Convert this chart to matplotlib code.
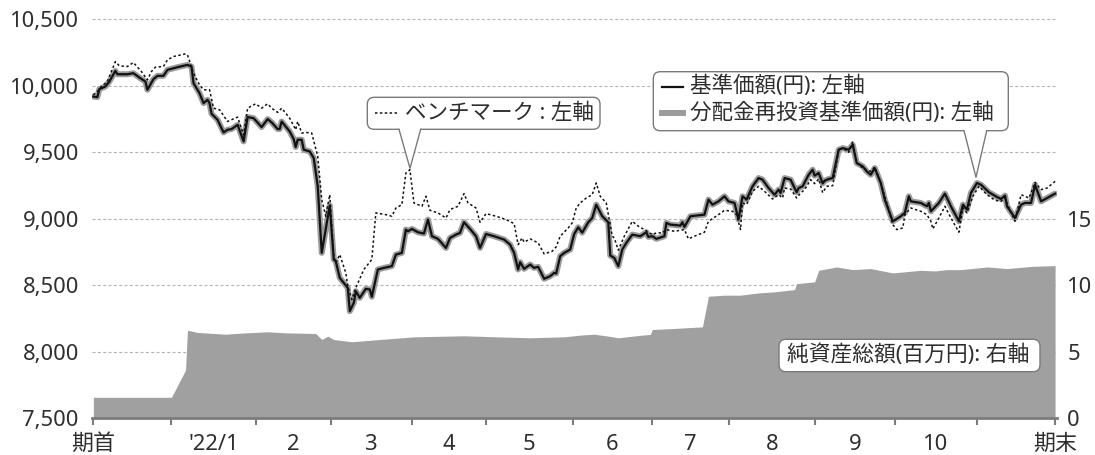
import matplotlib
matplotlib.use("Agg")
import matplotlib.pyplot as plt
import matplotlib.transforms as mtransforms
from matplotlib.patches import FancyBboxPatch, Polygon
from matplotlib.lines import Line2D

plt.rcParams['font.family'] = ['Noto Sans', 'Noto Sans CJK JP', 'DejaVu Sans']

# ---------------- data (x = trading-day position from 期首) ----------------
nav_day = [0, 1, 1.5, 3, 4, 5.5, 6, 8.5, 10, 11.5, 13, 13.5, 15, 16, 17.5, 18.5, 21, 23.5, 24.5, 25,
           26.5, 27.5, 28.5, 29, 29.5, 31, 32.5, 33.5, 34.5, 36, 37.5, 38.5, 40, 42, 43.5, 44.5, 46, 46.5,
           47, 49, 50, 50.5, 51, 52, 52.5, 54, 55, 56, 57, 59, 60, 60.5, 61.5, 62.5, 63.5, 64, 65, 65.5,
           66.5, 68, 69, 69.5, 71, 72.5, 74.5, 75.5, 77, 78, 78.5, 79.5, 81, 82.5, 83.5, 84.5, 86, 88, 89,
           90.5, 91.5, 92.5, 94, 95.5, 96.5, 98, 100, 102.5, 104, 105, 106, 106.5, 107.5, 109, 110, 111,
           112.5, 114, 115, 115.5, 116.5, 117.5, 119, 120, 121, 122, 123.5, 124.5, 125.5, 127, 128.5, 129,
           130, 131, 132, 133, 134.5, 136.5, 138, 138.5, 139.5, 140.5, 142.5, 143, 144, 146.5, 147, 147.5,
           149, 150.5, 152.5, 153.5, 154.5, 156, 157.5, 158.5, 160, 161, 162, 163, 164.5, 166, 167, 168.5,
           170, 171, 171.5, 172.5, 174, 175.5, 176, 177, 178.5, 179.5, 180, 181, 182, 182.5, 183.5, 184.5,
           186, 187, 188.5, 189.5, 190.5, 192, 193, 194, 195, 196.5, 197.5, 199.5, 201.5, 202.5, 203.5, 204,
           206.5, 208, 208.5, 209, 211, 212.5, 214, 216, 217, 218, 219, 220.5, 221.5, 223.5, 225.5, 226.5,
           227.5, 228, 230, 231.5, 232.5, 234, 235, 236.5, 238, 240]
nav_val = [9917, 9913, 9973, 9993, 10030, 10110, 10085, 10085, 10093, 10060, 10030, 9968, 10048, 10073,
           10073, 10118, 10138, 10155, 10143, 10018, 9943, 9868, 9893, 9868, 9788, 9743, 9648, 9668, 9673,
           9705, 9580, 9763, 9755, 9688, 9748, 9723, 9673, 9673, 9730, 9655, 9598, 9538, 9593, 9593, 9518,
           9505, 9455, 9243, 8743, 9100, 8693, 8680, 8555, 8518, 8480, 8305, 8368, 8455, 8405, 8473, 8468,
           8413, 8618, 8630, 8643, 8730, 8743, 8918, 8905, 8923, 8898, 8888, 8993, 8868, 8848, 8780, 8855,
           8880, 8893, 8973, 8923, 8868, 8780, 8885, 8868, 8843, 8805, 8743, 8618, 8673, 8623, 8655, 8630,
           8638, 8548, 8568, 8593, 8588, 8718, 8743, 8768, 8885, 8935, 8895, 8973, 9005, 9105, 9018, 8973,
           8723, 8705, 8643, 8768, 8818, 8880, 8868, 8898, 8863, 8868, 8848, 8868, 8968, 8955, 8948, 8973,
           8938, 9018, 9023, 9030, 9143, 9105, 9130, 9168, 9130, 9118, 8993, 9168, 9143, 9243, 9305, 9293,
           9230, 9180, 9218, 9193, 9305, 9293, 9198, 9230, 9243, 9330, 9368, 9323, 9343, 9265, 9285, 9298,
           9305, 9518, 9530, 9518, 9555, 9418, 9393, 9355, 9330, 9380, 9268, 9143, 8980, 9018, 9043, 9168,
           9130, 9118, 9093, 9118, 9055, 9118, 9188, 9093, 8980, 9105, 9068, 9193, 9268, 9255, 9198, 9163,
           9148, 9173, 9093, 9005, 9105, 9118, 9118, 9255, 9130, 9155, 9188]
# 分配金再投資基準価額: no distributions in the period -> same as 基準価額
reinv_val = list(nav_val)

bench_day = [0, 1, 2, 3.5, 5.5, 6.5, 8.5, 10, 12, 13.5, 14.5, 15.5, 17.5, 18.5, 20, 23, 23.5, 25, 26.5,
             27.5, 29, 30, 31.5, 33.5, 34.5, 36, 37.5, 38.5, 40.5, 42, 43.5, 44.5, 46, 47, 49, 50.5, 51, 52,
             53, 54.5, 56, 57, 58, 59, 60, 60.5, 61.5, 63, 63.5, 64.5, 65.5, 67.5, 69.5, 70.5, 73, 74.5,
             75.5, 77, 78, 79, 80, 82, 83, 84, 86, 88, 89, 91, 92.5, 93.5, 95.5, 96.5, 98, 100.5, 103, 105,
             106, 107, 107.5, 109, 111, 112.5, 114.5, 115.5, 116.5, 118.5, 119.5, 120.5, 121.5, 123, 124.5,
             125.5, 126.5, 128, 129.5, 130, 131, 132.5, 134.5, 136, 137.5, 138.5, 139.5, 140.5, 142, 143,
             145, 147.5, 148.5, 150, 152.5, 153.5, 156, 157.5, 159.5, 160.5, 161.5, 162, 163, 164.5, 166,
             167.5, 169.5, 171, 172, 172.5, 174, 175.5, 176.5, 177.5, 179, 180, 181, 182, 183, 184.5, 186,
             187, 188.5, 189.5, 190.5, 192, 194, 195, 196.5, 198, 199.5, 200.5, 202, 202.5, 204, 206.5, 208,
             209, 209.5, 211, 212.5, 214, 216, 217, 218, 219.5, 221, 223, 225, 226.5, 227.5, 228.5, 230,
             231.5, 233.5, 235, 236.5, 238, 240]
bench_val = [9930, 9955, 9993, 10030, 10180, 10148, 10143, 10173, 10105, 10043, 10105, 10138, 10143, 10193,
             10218, 10238, 10230, 10093, 10005, 9968, 9968, 9830, 9818, 9730, 9743, 9763, 9630, 9830, 9863,
             9830, 9863, 9830, 9798, 9830, 9755, 9668, 9730, 9643, 9648, 9643, 9468, 9143, 9018, 9180, 8718,
             8668, 8730, 8593, 8493, 8393, 8480, 8618, 8693, 9043, 9030, 9018, 9080, 9105, 9343, 9368, 9118,
             9093, 9168, 9063, 9043, 9005, 9068, 9093, 9188, 9118, 9080, 8973, 9038, 9018, 8993, 8963, 8805,
             8855, 8823, 8848, 8818, 8735, 8755, 8788, 8868, 8930, 8968, 9080, 9118, 9155, 9180, 9268, 9168,
             9118, 8868, 8855, 8763, 8868, 8980, 8943, 8918, 8898, 8880, 8893, 8893, 8918, 8905, 8918, 8848,
             8868, 8898, 8980, 9030, 9063, 9055, 9030, 8918, 9118, 9105, 9205, 9243, 9205, 9148, 9180, 9155,
             9230, 9223, 9155, 9193, 9218, 9293, 9263, 9298, 9195, 9243, 9248, 9518, 9530, 9498, 9580, 9418,
             9380, 9355, 9388, 9268, 9118, 8955, 8918, 8930, 9030, 9080, 9055, 9030, 8980, 8923, 9005, 9093,
             9005, 8898, 9080, 9043, 9168, 9243, 9180, 9138, 9130, 9155, 9080, 8980, 9180, 9155, 9273, 9218,
             9230, 9280]

net_day = [0, 19.5, 23, 23.5, 26, 33, 38, 43.5, 48, 55.5, 57, 58.5, 60, 64.5, 71.5, 80, 92.5, 100.5, 109,
           117.5, 121.5, 125, 128.5, 131, 137, 139, 139.5, 145, 152, 153.5, 157.5, 161.5, 166, 170, 175,
           175.5, 180, 181, 185.5, 189.5, 194, 199.5, 206.5, 210, 213, 216.5, 223, 228, 234.5, 240]
net_val = [1.58, 1.58, 3.62, 6.62, 6.45, 6.32, 6.42, 6.5, 6.42, 6.37, 5.92, 6.17, 5.92, 5.75, 5.92, 6.12,
           6.2, 6.12, 6.05, 6.12, 6.25, 6.32, 6.17, 6.05, 6.25, 6.3, 6.67, 6.75, 6.87, 9.17, 9.25, 9.25,
           9.42, 9.5, 9.67, 10.12, 10.25, 11.12, 11.37, 11.17, 11.25, 10.92, 11.12, 11.07, 11.17, 11.17,
           11.37, 11.25, 11.42, 11.47]

month_bounds = [0, 19.4, 40.6, 59.2, 79.4, 97.9, 119.6, 139.5, 158.6, 180.2, 200.0, 220.4, 240]
month_labels = ["'22/1", "2", "3", "4", "5", "6", "7", "8", "9", "10"]
left_ticks = [7500, 8000, 8500, 9000, 9500, 10000, 10500]
right_ticks = [0, 5, 10, 15]

# ---------------- figure ----------------
W, H = 1095, 455
fig = plt.figure(figsize=(W / 100, H / 100), dpi=100)
L, R, T, B = 92, 1056.7, 19, 418.3
rect = [L / W, 1 - B / H, (R - L) / W, (B - T) / H]

ax = fig.add_axes(rect)
ax2 = ax.twinx()
ax3 = fig.add_axes(rect, sharex=ax, sharey=ax)
ax.set_zorder(1); ax2.set_zorder(2); ax3.set_zorder(3)
ax2.patch.set_visible(False); ax3.patch.set_visible(False)

txt = '#2e2e2e'
FS = 15.8
ax.set_xlim(-0.33, 240.4)
ax.set_ylim(7500, 10500)
ax.set_yticks(left_ticks)
ax.set_yticklabels([f'{v:,}' for v in left_ticks])
ax.tick_params(axis='y', length=0, pad=9.5, labelsize=FS, labelcolor=txt)
ax.tick_params(axis='x', which='both', bottom=False, labelbottom=False)
ax.yaxis.grid(True, color='#b4b4b4', lw=0.8, linestyle=(0, (2.8, 2.0)))
for s in ax.spines.values():
    s.set_visible(False)

ax2.set_ylim(0, 30)
ax2.set_yticks(right_ticks)
ax2.tick_params(axis='y', length=0, pad=7.5, labelsize=FS, labelcolor=txt)
for s in ax2.spines.values():
    s.set_visible(False)
ax2.fill_between(net_day, 0, net_val, color='#a0a0a0', lw=0)

ax3.plot(nav_day, reinv_val, color='#9c9c9c', lw=4.3, solid_joinstyle='round', solid_capstyle='round')
ax3.plot(nav_day, nav_val, color='#111111', lw=1.6, solid_joinstyle='round')
ax3.plot(bench_day, bench_val, color='#111111', lw=1.1, linestyle=(0, (1.6, 1.6)))
ax3.tick_params(axis='y', which='both', left=False, labelleft=False)
for k, s in ax3.spines.items():
    s.set_visible(k == 'bottom')
ax3.spines['bottom'].set_color('#7c7c7c')
ax3.spines['bottom'].set_linewidth(2.0)
ax3.xaxis.remove_overlapping_locs = False
ax3.set_xticks(month_bounds)
ax3.set_xticklabels([''] * len(month_bounds))
mids = [(month_bounds[i] + month_bounds[i + 1]) / 2 for i in range(1, 11)]
ax3.set_xticks([month_bounds[0]] + mids + [month_bounds[-1]], minor=True)
ax3.set_xticklabels(['期首'] + month_labels + ['期末'], minor=True)
ax3.tick_params(axis='x', which='major', length=5, width=1.5, color='#7c7c7c', direction='out')
ax3.tick_params(axis='x', which='minor', length=0, pad=11, labelsize=FS, labelcolor=txt)

# ---------------- callouts (pixel coordinates, y downward) ----------------
PT = mtransforms.Affine2D().scale(1, -1).translate(0, H)
edge = '#7a7a7a'
AF = 15.5


def callout(x0, y0, x1, y1, ptr=None):
    box = FancyBboxPatch((x0, y0), x1 - x0, y1 - y0, boxstyle='round,pad=0,rounding_size=7',
                         fc='white', ec=edge, lw=1.0, transform=PT, zorder=10)
    fig.add_artist(box)
    if ptr:
        bx0, bx1, tx, ty = ptr
        fig.add_artist(Polygon([(bx0, y1 - 1.5), (tx, ty), (bx1, y1 - 1.5)], closed=True,
                               fc='white', ec='none', transform=PT, zorder=11))
        fig.add_artist(Line2D([bx0, tx, bx1], [y1, ty, y1], color=edge, lw=1.0,
                              transform=PT, zorder=12))


callout(367.3, 97.3, 600, 129.3, (399, 420.7, 410, 168.3))
fig.add_artist(Line2D([375, 399], [113.3, 113.3], color='#111111', lw=1.1, linestyle=(0, (1.6, 1.6)),
                      transform=PT, zorder=13))
fig.add_artist(plt.Text(405, 113.3, 'ベンチマーク : 左軸', fontsize=AF, color=txt, va='center',
                        ha='left', transform=PT, zorder=13))

callout(653.3, 71.7, 1008.3, 130.7, (964, 986.7, 976, 177.3))
fig.add_artist(Line2D([661.7, 683.3], [86.7, 86.7], color='#111111', lw=1.6, transform=PT, zorder=13))
fig.add_artist(plt.Text(690, 86.7, '基準価額(円): 左軸', fontsize=AF, color=txt, va='center',
                        ha='left', transform=PT, zorder=13))
fig.add_artist(Line2D([661.7, 683.3], [113.3, 113.3], color='#9c9c9c', lw=4.3, transform=PT, zorder=13))
fig.add_artist(plt.Text(690, 113.3, '分配金再投資基準価額(円): 左軸', fontsize=AF, color=txt,
                        va='center', ha='left', transform=PT, zorder=13))

callout(779, 339.3, 1040, 371.7)
fig.add_artist(plt.Text(787, 355.5, '純資産総額(百万円): 右軸', fontsize=15.7, color=txt, va='center',
                        ha='left', transform=PT, zorder=13))

fig.savefig('out.png', dpi=100)
